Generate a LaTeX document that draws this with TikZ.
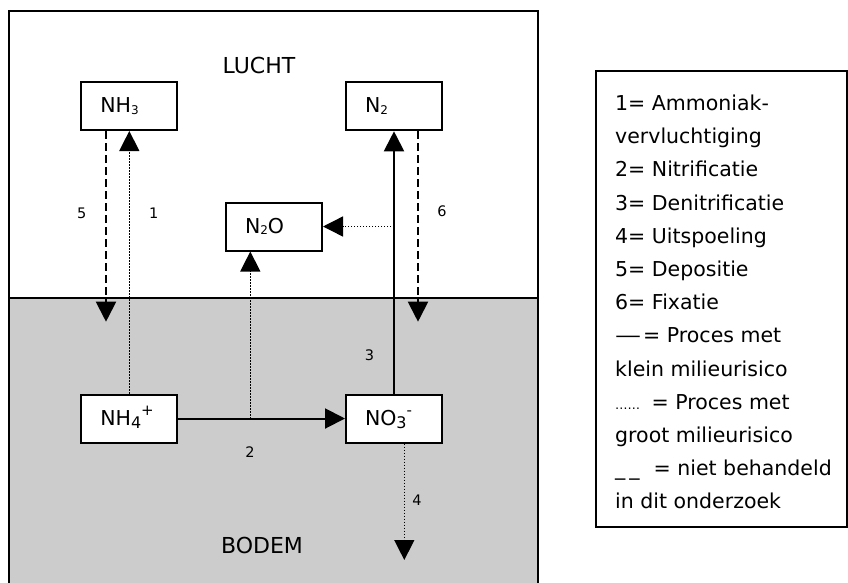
\documentclass[tikz,border=0pt]{standalone}
\usepackage{fontspec}
\setmainfont{DejaVu Sans}
\usetikzlibrary{arrows.meta}
\definecolor{soil}{HTML}{CCCCCC}
\newcommand\lowsub[1]{\raisebox{-1.5pt}{\fontsize{12}{12}\selectfont #1}}
\newcommand\ionsub[1]{\raisebox{-3pt}{\fontsize{16}{16}\selectfont #1}}
\newcommand\ionsup[1]{\raisebox{10pt}{\fontsize{15}{15}\selectfont #1}}
\begin{document}
\begin{tikzpicture}[x=1pt,y=-1pt,
  chem/.style={draw, line width=2pt, fill=white, minimum width=96pt, minimum height=48pt,
    text width=58pt, inner xsep=19pt, inner ysep=0pt, align=left,
    text height=15.5pt, text depth=2.5pt, font=\fontsize{20.5}{24}\selectfont},
  zone/.style={inner sep=0pt, font=\fontsize{22}{24}\selectfont},
  num/.style={inner sep=0pt, font=\fontsize{14.5}{16}\selectfont},
  legtext/.style={inner sep=0pt, anchor=base west, font=\fontsize{20.5}{24}\selectfont},
  legendbox/.style={draw, line width=2pt, minimum width=250.8pt, minimum height=456.3pt, inner sep=0pt},
  tip/.style={-{Triangle[length=20pt,width=20pt]}},
  lowrisk/.style={tip, line width=2pt},
  highrisk/.style={tip, line width=1.4pt, dash pattern=on 1.2pt off 1.8pt},
  nottreated/.style={tip, line width=2pt, dash pattern=on 8pt off 4pt}
]
\useasboundingbox (0,0) rectangle (848,582);
\clip (0,0) rectangle (848,582);
% zones
\fill[soil] (9.3,298) rectangle (537.7,600);
\draw[line width=2pt] (9.3,600) -- (9.3,10.7) -- (537.7,10.7) -- (537.7,600);
\draw[line width=2pt] (9.3,298) -- (537.7,298);
\node[zone] (lucht) at (259,65) {LUCHT};
\node[zone] (bodem) at (262,545) {BODEM};
% compounds
\node[chem] (NH3) at (129.3,106) {NH\lowsub{3}};
\node[chem] (N2) at (394,106.3) {N\lowsub{2}};
\node[chem] (N2O) at (274,226.5) {N\lowsub{2}O};
\node[chem] (NH4) at (129.3,418.5) {NH\ionsub{4}\ionsup{+}};
\node[chem] (NO3) at (394,418.5) {NO\ionsub{3}\ionsup{-}};
% free ends and junctions
\coordinate (d5) at (106,321.7);
\coordinate (d6) at (418,321.7);
\coordinate (d4) at (404.3,560);
\coordinate (j2) at (250.3,418.5);
\coordinate (j3) at (394,226.5);
% processes
\draw[nottreated] (NH3.south -| d5) -- (d5);
\draw[highrisk] (NH4.north) -- (NH3.south);
\draw[nottreated] (N2.south -| d6) -- (d6);
\draw[lowrisk] (NO3.north) -- (N2.south);
\draw[highrisk] (j3) -- (N2O.east);
\draw[lowrisk] (NH4.east) -- (NO3.west);
\draw[highrisk] (j2) -- (j2 |- N2O.south);
\draw[highrisk] (d4 |- NO3.south) -- (d4);
% numbers
\node[num] (n5) at (81.7,213.5) {5};
\node[num] (n1) at (153.7,213.5) {1};
\node[num] (n6) at (442,211.7) {6};
\node[num] (n3) at (369.5,355.5) {3};
\node[num] (n2) at (250,451.7) {2};
\node[num] (n4) at (417,500) {4};
% legend
\node[legendbox] (legend) at (721.1,299.15) {};
\foreach \t [count=\i] in {{1= Ammoniak-},{vervluchtiging},{2= Nitrificatie},{3= Denitrificatie},{4= Uitspoeling},{5= Depositie},{6= Fixatie},{\scalebox{1.27}[1]{—}\kern2pt= Proces met},{klein milieurisico},{{\fontsize{12.5}{12.5}\selectfont ……}\kern5pt{} = Proces met},{groot milieurisico},{\_\kern4pt\_\kern14pt= niet behandeld},{in dit onderzoek}}
  \node[legtext] (leg\i) at (615,{110.5+33.2*(\i-1)}) {\t};
\end{tikzpicture}
\end{document}
